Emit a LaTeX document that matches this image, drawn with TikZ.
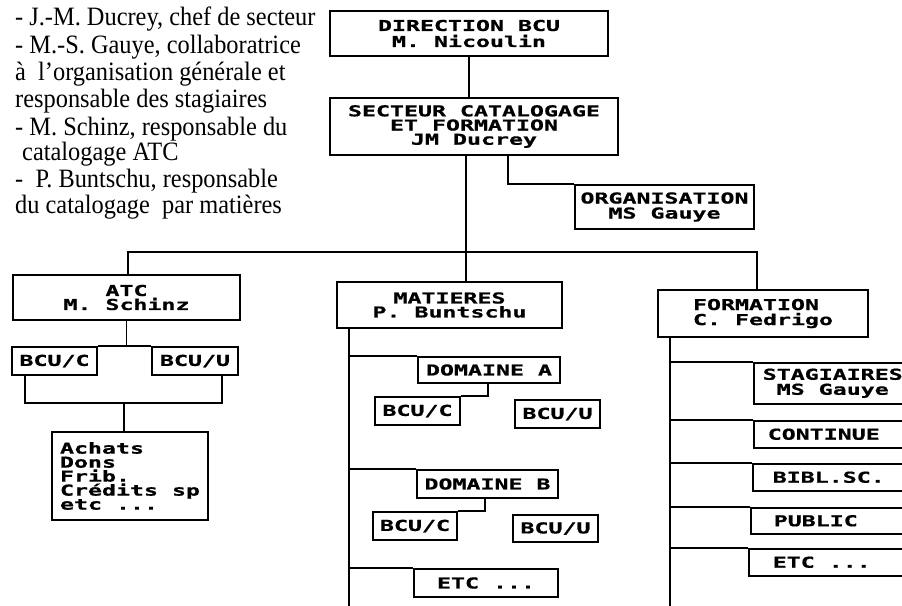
\documentclass[tikz,border=0pt]{standalone}
\usepackage{fontspec}
\newfontfamily\boxfont[FakeStretch=1.55,FakeBold=0.8]{DejaVu Sans Mono Bold}
\newfontfamily\notefont[FakeStretch=0.92]{Liberation Serif}
\newcommand\lbox[1]{\makebox[140pt][l]{#1}}
\newcommand\cbox[1]{\makebox[140pt][c]{#1}}
\begin{document}
\begin{tikzpicture}[x=1pt,y=-1pt]
\tikzset{
  bx/.style={draw, line width=1.5pt, inner sep=0pt, align=center,
    font=\boxfont\fontsize{15}{15}\selectfont},
  rbx/.style={bx, anchor=north west},
  cn/.style={line width=1.8pt},
  note/.style={anchor=base west, inner sep=0pt,
    font=\notefont\fontsize{26.5}{27}\selectfont}
}
\useasboundingbox (0,0) rectangle (902,605);
\clip (0,0) rectangle (902,605);
\fill[white] (0,0) rectangle (902,605);

% notes
\node[note] (t1) at (15,25) {- J.-M. Ducrey, chef de secteur};
\node[note] (t2) at (15,53) {- M.-S. Gauye, collaboratrice};
\node[note] (t3) at (15,80) {à~~l’organisation générale et};
\node[note] (t4) at (15,107) {responsable des stagiaires};
\node[note] (t5) at (15,135) {- M. Schinz, responsable du};
\node[note] (t6) at (22,160) {catalogage ATC};
\node[note] (t7) at (15,187) {-~~P. Buntschu, responsable};
\node[note] (t8) at (15,213) {du catalogage~~par matières};

% top boxes
\node[bx, minimum width=278, minimum height=45, font=\boxfont\fontsize{15}{16}\selectfont] (dir) at (469,33.5) {DIRECTION BCU\\M. Nicoulin};
\node[bx, minimum width=288, minimum height=57, font=\boxfont\fontsize{15}{14.2}\selectfont] (sect) at (474,126.5) {SECTEUR CATALOGAGE\\ET FORMATION\\JM Ducrey};
\node[bx, minimum width=179, minimum height=44] (org) at (664.5,207) {ORGANISATION\\MS Gauye};

% left column
\node[bx, minimum width=227, minimum height=45, font=\boxfont\fontsize{15}{14}\selectfont] (atc) at (126.5,297.5) {ATC\\M. Schinz};
\node[bx, minimum width=85, minimum height=28] (atcC) at (54.5,361) {BCU/C};
\node[bx, minimum width=86, minimum height=28] (atcU) at (195,361) {BCU/U};
\node[bx, align=left, minimum width=156, minimum height=88, font=\boxfont\fontsize{15}{14}\selectfont] (achats) at (130,476) {Achats\\Dons\\Frib.\\Crédits sp\\etc ...};

% middle column
\node[bx, minimum width=225, minimum height=46, font=\boxfont\fontsize{15}{14}\selectfont] (mat) at (449.5,305) {MATIERES\\P. Buntschu};
\node[bx, minimum width=142, minimum height=26] (domA) at (489,370) {DOMAINE A};
\node[bx, minimum width=85, minimum height=28] (aC) at (417.5,411) {BCU/C};
\node[bx, minimum width=85, minimum height=28] (aU) at (557.5,414) {BCU/U};
\node[bx, minimum width=141, minimum height=28] (domB) at (487.5,484) {DOMAINE B};
\node[bx, minimum width=84, minimum height=28] (bC) at (415,526) {BCU/C};
\node[bx, minimum width=85, minimum height=27] (bU) at (555.5,528.5) {BCU/U};
\node[bx, minimum width=144, minimum height=28] (etcM) at (486,583) {ETC ...};

% right column
\node[bx, align=left, minimum width=210, minimum height=47] (form) at (763,313.5) {FORMATION\\C. Fedrigo};
\node[rbx, inner xsep=9, minimum height=41] (stag) at (753,362) {\cbox{STAGIAIRES}\\\cbox{MS Gauye}};
\node[rbx, inner xsep=14, minimum height=27] (cont) at (753,420) {\lbox{CONTINUE}};
\node[rbx, inner xsep=20, minimum height=27] (bibl) at (752,463) {\lbox{BIBL.SC.}};
\node[rbx, inner xsep=23, minimum height=26] (publ) at (750,507) {\lbox{PUBLIC}};
\node[rbx, inner xsep=24, minimum height=27] (etcR) at (748,548) {\lbox{ETC ...}};

% connectors
\draw[cn] (dir.south) -- (dir.south |- sect.north);
\draw[cn] ([xshift=-8]sect.south) -- ([xshift=-8]sect.south |- mat.north);
\draw[cn] ([xshift=34]sect.south) |- (org.north west);
\coordinate (busR) at (757,252);
\draw[cn] ([xshift=1.5]atc.north) |- (busR) -- (busR |- form.north);

\draw[cn] (atc.south) -- (atc.south |- atcC.north);
\draw[cn] (atcC.north east) -- (atcU.north west);
\coordinate (abus) at (124,403);
\draw[cn] ([xshift=-29.5]atcC.south) |- (abus) -| ([xshift=27]atcU.south);
\draw[cn] (abus) -- (abus |- achats.north);

\coordinate (mEnd) at (349,607);
\draw[cn] (mEnd |- mat.south) -- (mEnd);
\foreach \b in {domA,domB,etcM} \draw[cn] (mEnd |- \b.north west) -- (\b.north west);
\draw[cn] ([xshift=-1]domA.south) |- (aC.north east);
\draw[cn] ([xshift=-2.5]domB.south) |- (bC.north east);

\coordinate (rEnd) at (670,607);
\draw[cn] (rEnd |- form.south) -- (rEnd);
\foreach \b in {stag,cont,bibl,publ,etcR} \draw[cn] (rEnd |- \b.north west) -- (\b.north west);
\end{tikzpicture}
\end{document}
